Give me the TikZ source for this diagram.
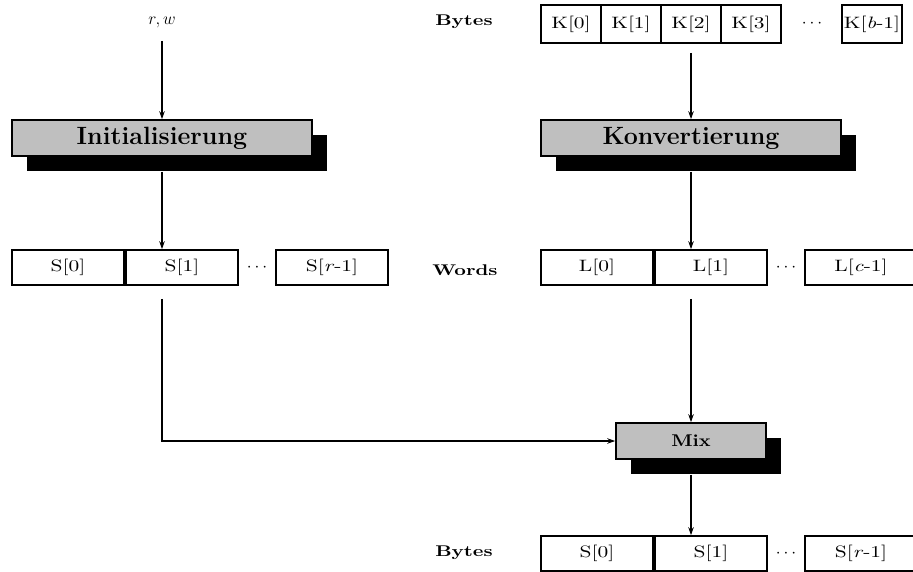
\documentclass[tikz,border=0pt]{standalone}
\usepackage{fontspec}
\usetikzlibrary{arrows.meta,shadows}

% wide cuts of Latin Modern for the cells and the row tags
\newfontfamily\cellfont{lmroman10-regular.otf}[FakeStretch=1.3, ItalicFont=lmroman10-italic.otf]
\newfontfamily\tagfont{lmroman10-bold.otf}[FakeStretch=1.3]
\newfontfamily\mixfont{lmroman10-bold.otf}[FakeStretch=1.15]

\tikzset{
  arr/.style={line width=1.3pt, -{Stealth[length=8pt,width=5.5pt,inset=2.5pt]}},
  proc/.style={draw, line width=1.6pt, fill=black!25, minimum height=36pt, inner sep=0pt,
    font=\fontsize{25}{29}\selectfont\bfseries,
    drop shadow={shadow xshift=15pt, shadow yshift=-15pt, fill=black, opacity=1}},
  cell/.style={draw, line width=1.6pt, fill=white, minimum width=112pt, minimum height=35pt,
    inner sep=0pt, font=\fontsize{16.5}{19}\cellfont},
  kcell/.style={cell, minimum width=60pt, minimum height=38pt},
  tag/.style={font=\fontsize{15.5}{19}\tagfont},
  dots/.style={font=\fontsize{16}{19}\selectfont}
}

\begin{document}
\begin{tikzpicture}[x=1pt, y=-1pt]
\useasboundingbox (0,0) rectangle (913,572);

% left branch: parameters and the table S
\node[font=\fontsize{18}{21}\selectfont] (rw) at (162,22) {$r,w$};
\node[proc, minimum width=300pt] (init) at (162,138) {Initialisierung};
\node[cell] (s0) at (68,267.5) {S[0]};
\node[cell] (s1) at (182,267.5) {S[1]};
\node[dots] (sdots) at (257,267.5) {$\cdots$};
\node[cell] (sr) at (332,267.5) {S[\textit{r}-1]};

% right branch: key bytes, words, mixing
\node[tag] (bytes) at (464,22) {Bytes};
\foreach \i in {0,...,3}
    \node[kcell] (k\i) at (571+60*\i,24) {K[\i]};
\node[dots] (kdots) at (812,24) {$\cdots$};
\node[kcell] (kb) at (872,24) {K[\textit{b}-1]};

\node[proc, minimum width=300pt] (konv) at (691,138) {Konvertierung};

\node[tag] (words) at (465,270) {Words};
\node[cell] (l0) at (597,267.5) {L[0]};
\node[cell] (l1) at (711,267.5) {L[1]};
\node[dots] (ldots) at (786,267.5) {$\cdots$};
\node[cell] (lc) at (861,267.5) {L[\textit{c}-1]};

\node[proc, minimum width=150pt, font=\fontsize{17}{21}\mixfont] (mix) at (691,441) {Mix};

\node[tag] (out) at (464,553) {Bytes};
\node[cell] (o0) at (597,553.5) {S[0]};
\node[cell] (o1) at (711,553.5) {S[1]};
\node[dots] (odots) at (786,553.5) {$\cdots$};
\node[cell] (or) at (861,553.5) {S[\textit{r}-1]};

% connectors
\draw[arr, shorten <=10pt] (rw.south) -- (init.north);
\draw[arr] ([yshift=-15pt]init.south) -- (init.south |- s1.north);
\draw[arr, shorten <=13pt] (init.south |- s1.south) |- (mix.west);
\draw[arr, shorten <=9pt] (k2.south) -- (konv.north);
\draw[arr] ([yshift=-15pt]konv.south) -- (konv.south |- l1.north);
\draw[arr, shorten <=13pt] (konv.south |- l1.south) -- (mix.north);
\draw[arr] ([yshift=-15pt]mix.south) -- (mix.south |- o1.north);
\end{tikzpicture}
\end{document}
